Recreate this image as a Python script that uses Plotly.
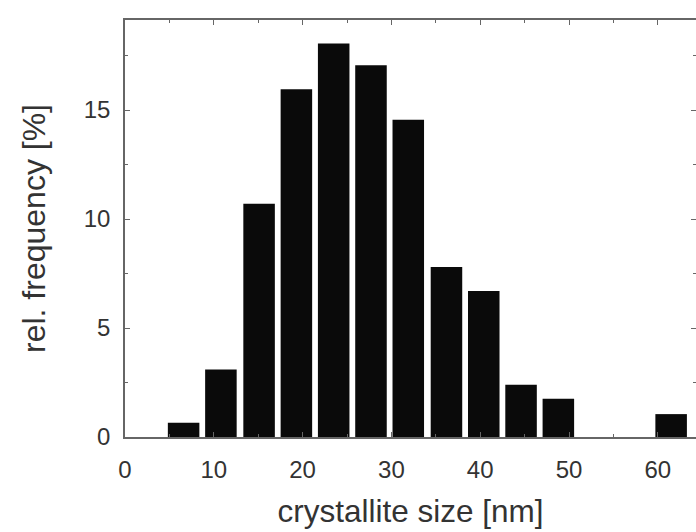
import plotly.graph_objects as go

bin_centers = [6.6, 10.8, 15.1, 19.3, 23.5, 27.7, 31.9, 36.2, 40.4, 44.6, 48.8, 53.0, 57.3, 61.5]
rel_frequency = [0.65, 3.1, 10.7, 15.95, 18.05, 17.05, 14.55, 7.8, 6.7, 2.4, 1.75, 0, 0, 1.05]
x_ticks = [0, 10, 20, 30, 40, 50, 60]
y_ticks = [0, 5, 10, 15]

font_family = "Liberation Sans, Arial, sans-serif"
txt = "#333333"
axcol = "#666666"

fig = go.Figure()
fig.add_trace(go.Bar(
    x=bin_centers, y=rel_frequency, width=3.55,
    marker=dict(color="#0a0a0a", line=dict(width=0)),
))

fig.update_layout(
    width=696, height=532,
    margin=dict(l=125, r=0, t=20, b=95),
    paper_bgcolor="white", plot_bgcolor="white",
    showlegend=False,
    font=dict(family=font_family, color=txt),
    xaxis=dict(
        range=[0, 64.3], tickmode="array", tickvals=x_ticks,
        ticks="inside", ticklen=5, tickwidth=1.2, tickcolor=axcol,
        minor=dict(dtick=5, tick0=0, ticks="inside", ticklen=3, tickcolor=axcol),
        showline=True, linecolor=axcol, linewidth=1.5, mirror="ticks",
        showgrid=False, zeroline=False, automargin=False,
        tickfont=dict(size=24, color=txt), ticklabelstandoff=10,
        title=dict(text="crystallite size [nm]", font=dict(size=31.5, color=txt), standoff=18),
    ),
    yaxis=dict(
        range=[0, 19.13], tickmode="array", tickvals=y_ticks,
        ticks="inside", ticklen=5, tickwidth=1.2, tickcolor=axcol,
        minor=dict(dtick=2.5, tick0=0, ticks="inside", ticklen=3, tickcolor=axcol),
        showline=True, linecolor=axcol, linewidth=1.5, mirror="ticks",
        showgrid=False, zeroline=False, automargin=False,
        tickfont=dict(size=24, color=txt), ticklabelstandoff=8,
        title=dict(text="rel. frequency [%]", font=dict(size=32, color=txt), standoff=29),
    ),
)

fig.write_html(
    "out.html",
    config={"displayModeBar": False},
    post_script="document.body.style.margin='0';document.body.style.overflow='hidden';",
)
